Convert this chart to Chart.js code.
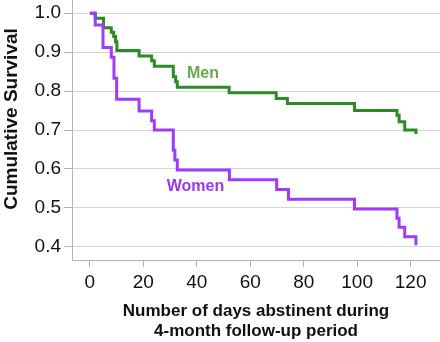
<!DOCTYPE html>
<html>
<head>
<meta charset="utf-8">
<script src="https://cdn.jsdelivr.net/npm/chart.js@4/dist/chart.umd.min.js"></script>
<style>
    html, body { margin: 0; padding: 0; background: #ffffff; }
    #container { width: 440px; height: 342px; position: relative; }
</style>
</head>
<body>
<div id="container"><canvas id="chart"></canvas></div>
<script>
// Kaplan-Meier steps (day of drop, survival after the drop)
const menDays        = [0, 2, 5.1, 8.0, 8.9, 9.6, 10.1, 18.4, 23.1, 24.1, 31.2, 32.1, 32.7, 52.1, 69.7, 73.9, 99, 114.9, 115.7, 117.8, 122];
const menSurvival    = [1.0, 0.987, 0.963, 0.951, 0.94, 0.927, 0.904, 0.89, 0.878, 0.864, 0.837, 0.824, 0.81, 0.796, 0.781, 0.768, 0.75, 0.738, 0.721, 0.70, 0.69];
const womenDays      = [0, 2, 4.9, 8.0, 9.0, 10.0, 18.4, 23.1, 24.1, 31.2, 31.8, 32.7, 52.2, 69.9, 74.3, 99, 114.9, 115.7, 117.8, 122];
const womenSurvival  = [1.0, 0.97, 0.912, 0.887, 0.833, 0.779, 0.749, 0.724, 0.70, 0.648, 0.623, 0.597, 0.572, 0.547, 0.522, 0.497, 0.473, 0.45, 0.426, 0.404];

const groupNames  = ["Men", "Women"];
const xTicks      = [0, 20, 40, 60, 80, 100, 120];
const yTicks      = [0.4, 0.5, 0.6, 0.7, 0.8, 0.9, 1.0];
const xTitleLines = ["Number of days abstinent during", "4-month follow-up period"];
const yTitle      = "Cumulative Survival";

// Where the group names sit, in data units
const labelDays     = [42.3, 39.5];
const labelSurvival = [0.844, 0.554];

const lineColors  = ["#2c8c24", "#a03cf8"];
const labelColors = ["#6aa84a", "#9a36f0"];

/**
 * Zips two arrays into {x, y} points.
 */
function toPoints(xs, ys)
{
    return xs.map((x, i) => ({ x: x, y: ys[i] }));
}

// Writes the group names next to their curves
const groupLabels = {
    id: "groupLabels",
    afterDatasetsDraw(chart)
    {
        const ctx = chart.ctx;
        const xs  = chart.scales.x;
        const ys  = chart.scales.y;

        ctx.save();
        ctx.font         = "bold 16px 'Liberation Sans', Arial, sans-serif";
        ctx.textAlign    = "center";
        ctx.textBaseline = "middle";

        groupNames.forEach((name, i) => {
            ctx.fillStyle = labelColors[i];
            ctx.fillText(name, xs.getPixelForValue(labelDays[i]), ys.getPixelForValue(labelSurvival[i]));
        });

        ctx.restore();
    }
};

// Vertical axis title, sits a bit above the middle of the axis like the original
const yAxisTitle = {
    id: "yAxisTitle",
    afterDraw(chart)
    {
        const ctx = chart.ctx;
        const ys  = chart.scales.y;

        ctx.save();
        ctx.font         = "bold 19px 'Liberation Sans', Arial, sans-serif";
        ctx.fillStyle    = "#111111";
        ctx.textAlign    = "center";
        ctx.textBaseline = "middle";
        ctx.translate(12, ys.getPixelForValue(0.7) - 11);
        ctx.rotate(-Math.PI / 2);
        ctx.fillText(yTitle, 0, 0);
        ctx.restore();
    }
};

new Chart(document.getElementById("chart"), {
    type: "line",
    data: {
        datasets: [
            {
                label: groupNames[1],
                data: toPoints(womenDays, womenSurvival),
                borderColor: lineColors[1],
                borderWidth: 3,
                stepped: "before",
                pointRadius: 0,
                fill: false
            },
            {
                label: groupNames[0],
                data: toPoints(menDays, menSurvival),
                borderColor: lineColors[0],
                borderWidth: 3,
                stepped: "before",
                pointRadius: 0,
                fill: false
            }
        ]
    },
    options: {
        responsive: true,
        maintainAspectRatio: false,
        devicePixelRatio: 1,
        animation: false,
        layout: { padding: 0 },
        plugins: {
            legend: { display: false },
            tooltip: { enabled: false }
        },
        scales: {
            x: {
                type: "linear",
                min: -6.7,
                max: 131,
                afterBuildTicks: (scale) => { scale.ticks = xTicks.map(v => ({ value: v })); },
                afterFit: (scale) => {
                    scale.height       = 82;
                    scale.paddingLeft  = 0;
                    scale.paddingRight = 0;
                },
                grid: {
                    drawOnChartArea: false,
                    drawTicks: true,
                    tickLength: 7,
                    tickColor: "#b4b4b4"
                },
                border: { display: true, color: "#b4b4b4", width: 1 },
                ticks: {
                    padding: 4,
                    color: "#111111",
                    maxRotation: 0,
                    font: { family: "'Liberation Sans', Arial, sans-serif", size: 19 }
                },
                title: {
                    display: true,
                    text: xTitleLines,
                    color: "#111111",
                    padding: { top: 0, bottom: 0 },
                    font: { family: "'Liberation Sans', Arial, sans-serif", size: 17, weight: "bold", lineHeight: 1.2 }
                }
            },
            y: {
                type: "linear",
                min: 0.366,
                max: 1.034,
                afterBuildTicks: (scale) => { scale.ticks = yTicks.map(v => ({ value: v })); },
                afterFit: (scale) => {
                    scale.width         = 72;
                    scale.paddingTop    = 0;
                    scale.paddingBottom = 0;
                },
                grid: {
                    color: "#d6d6d6",
                    lineWidth: 1,
                    drawTicks: true,
                    tickLength: 8,
                    tickColor: "#b4b4b4"
                },
                border: { display: true, color: "#b4b4b4", width: 1 },
                ticks: {
                    padding: 3,
                    color: "#111111",
                    callback: (v) => v.toFixed(1),
                    font: { family: "'Liberation Sans', Arial, sans-serif", size: 19 }
                },
                title: { display: false }
            }
        }
    },
    plugins: [groupLabels, yAxisTitle]
});
</script>
</body>
</html>
